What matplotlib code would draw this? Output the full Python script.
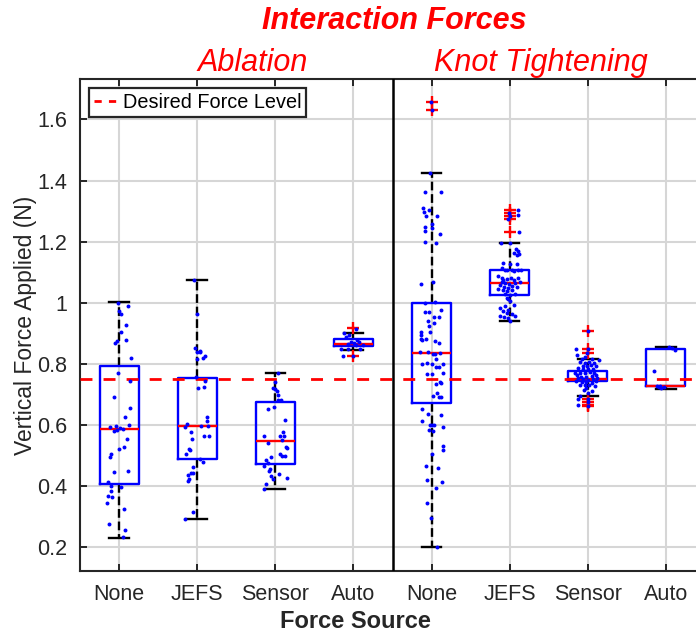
import matplotlib
matplotlib.use("Agg")
import matplotlib.pyplot as plt
from matplotlib.lines import Line2D
from matplotlib.ticker import FuncFormatter

plt.rcParams['font.family'] = ['Liberation Sans', 'DejaVu Sans']

# ---- data -------------------------------------------------------------
categories = ["None", "JEFS", "Sensor", "Auto", "None", "JEFS", "Sensor", "Auto"]
tasks = ["Ablation", "Knot Tightening"]
desired_force = 0.75

# box statistics per force source (N)
q1 = [0.4085, 0.4905, 0.473, 0.859, 0.674, 1.024, 0.743, 0.727]
medians = [0.586, 0.597, 0.5475, 0.8666, 0.836, 1.0656, 0.751, 0.728]
q3 = [0.795, 0.753, 0.677, 0.881, 1.000, 1.106, 0.778, 0.848]
whisker_lo = [0.231, 0.292, 0.391, 0.846, 0.200, 0.940, 0.695, 0.719]
whisker_hi = [1.002, 1.076, 0.771, 0.900, 1.425, 1.195, 0.817, 0.857]
outliers = [
    [],
    [],
    [],
    [0.918, 0.825],
    [1.658, 1.632],
    [1.303, 1.295, 1.284, 1.273, 1.232],
    [0.908, 0.850, 0.836, 0.684, 0.677, 0.667, 0.661],
    [],
]

# individual trials: force value and horizontal jitter
abl_none_force = [1.001, 0.991, 0.974, 0.965, 0.926, 0.905, 0.877, 0.874, 0.867, 0.820,
                  0.770, 0.745, 0.692, 0.655, 0.626, 0.600, 0.595, 0.598, 0.591, 0.582,
                  0.587, 0.585, 0.556, 0.527, 0.523, 0.506, 0.495, 0.446, 0.451, 0.414,
                  0.398, 0.401, 0.386, 0.367, 0.365, 0.345, 0.325, 0.277, 0.257, 0.233]
abl_none_jit = [-0.01, 0.11, 0.00, 0.03, 0.09, 0.03, 0.09, -0.03, -0.05, 0.15,
                -0.02, 0.14, -0.06, 0.14, 0.08, 0.13, -0.11, -0.04, 0.01, -0.06,
                0.05, -0.03, 0.10, 0.06, 0.00, -0.10, -0.12, -0.07, 0.12, -0.14,
                0.02, -0.10, -0.10, -0.14, -0.09, -0.15, 0.06, -0.13, 0.07, 0.05]

abl_jefs_force = [1.076, 0.965, 0.852, 0.841, 0.838, 0.840, 0.825, 0.821, 0.816, 0.759,
                  0.745, 0.721, 0.725, 0.626, 0.614, 0.603, 0.593, 0.598, 0.598, 0.579,
                  0.566, 0.566, 0.554, 0.522, 0.518, 0.506, 0.490, 0.481, 0.463, 0.443,
                  0.443, 0.436, 0.425, 0.418, 0.315, 0.292]
abl_jefs_jit = [-0.04, 0.00, -0.03, 0.03, 0.00, 0.04, 0.10, 0.08, 0.00, -0.01,
                0.10, 0.01, 0.09, 0.12, 0.12, -0.13, -0.15, 0.05, 0.14, -0.08,
                0.09, 0.15, -0.07, -0.10, -0.09, -0.14, 0.04, 0.07, -0.06, -0.08,
                -0.05, -0.12, -0.11, -0.12, -0.05, -0.15]

abl_sensor_force = [0.770, 0.740, 0.723, 0.719, 0.713, 0.697, 0.681, 0.681, 0.653, 0.658,
                    0.616, 0.579, 0.566, 0.564, 0.566, 0.553, 0.540, 0.530, 0.526, 0.504,
                    0.500, 0.499, 0.496, 0.486, 0.476, 0.468, 0.458, 0.451, 0.441, 0.434,
                    0.423, 0.426, 0.409, 0.391]
abl_sensor_jit = [0.04, 0.00, -0.03, -0.01, 0.02, 0.03, 0.03, 0.07, -0.09, -0.02,
                  0.13, 0.10, -0.14, 0.06, 0.11, 0.09, -0.10, 0.14, 0.15, 0.06,
                  0.09, 0.12, -0.05, -0.12, -0.10, -0.15, -0.07, -0.08, 0.05, -0.06,
                  -0.03, 0.15, -0.12, -0.14]

abl_auto_force = [0.916, 0.900, 0.895, 0.888, 0.879, 0.871, 0.869, 0.871, 0.866, 0.862,
                  0.863, 0.850, 0.849, 0.849, 0.827, 0.825]
abl_auto_jit = [0.03, -0.12, -0.06, -0.10, 0.04, -0.03, 0.01, 0.07, -0.07, 0.03,
                0.12, -0.16, -0.07, 0.09, -0.13, 0.00]

knot_none_force = [1.658, 1.632, 1.425, 1.362, 1.362, 1.311, 1.298, 1.303, 1.284, 1.283,
                   1.259, 1.249, 1.246, 1.236, 1.226, 1.200, 1.197, 1.062, 1.068, 0.999,
                   1.003, 0.976, 0.969, 0.969, 0.954, 0.954, 0.939, 0.934, 0.925, 0.905,
                   0.903, 0.895, 0.883, 0.880, 0.882, 0.875, 0.870, 0.840, 0.840, 0.832,
                   0.834, 0.837, 0.816, 0.801, 0.803, 0.799, 0.800, 0.790, 0.789, 0.770,
                   0.767, 0.767, 0.741, 0.736, 0.739, 0.706, 0.696, 0.693, 0.692, 0.652,
                   0.638, 0.634, 0.614, 0.601, 0.601, 0.600, 0.593, 0.585, 0.580, 0.532,
                   0.520, 0.504, 0.467, 0.459, 0.422, 0.415, 0.393, 0.344, 0.295, 0.200]
knot_none_jit = [-0.01, 0.00, -0.02, -0.09, 0.12, -0.11, -0.10, -0.03, -0.07, 0.07,
                 0.00, -0.09, 0.01, -0.09, 0.11, -0.08, 0.06, -0.13, 0.02, -0.08,
                 0.04, 0.12, -0.09, -0.03, 0.03, 0.09, -0.04, 0.03, -0.03, -0.02,
                 -0.14, -0.13, -0.13, -0.12, -0.07, 0.04, 0.09, -0.15, -0.05, 0.02,
                 0.05, 0.11, 0.06, -0.12, -0.06, 0.15, 0.00, 0.06, 0.09, 0.14,
                 -0.06, 0.01, 0.11, 0.06, 0.12, 0.07, 0.02, 0.09, 0.12, -0.12,
                 -0.05, 0.12, -0.12, -0.02, 0.03, 0.00, 0.15, -0.03, 0.02, 0.14,
                 0.15, 0.00, -0.07, 0.08, -0.06, 0.13, 0.06, -0.06, -0.01, 0.07]

knot_jefs_force = [1.303, 1.295, 1.287, 1.284, 1.273, 1.232, 1.197, 1.196, 1.175, 1.169,
                   1.160, 1.158, 1.164, 1.131, 1.126, 1.128, 1.115, 1.109, 1.106, 1.107,
                   1.104, 1.107, 1.109, 1.087, 1.082, 1.076, 1.079, 1.081, 1.076, 1.080,
                   1.068, 1.066, 1.063, 1.066, 1.068, 1.057, 1.052, 1.049, 1.054, 1.052,
                   1.044, 1.041, 1.038, 1.041, 1.027, 1.030, 1.029, 1.016, 1.011, 1.005,
                   0.989, 0.994, 0.983, 0.972, 0.978, 0.967, 0.962, 0.956, 0.954, 0.958,
                   0.949, 0.941]
knot_jefs_jit = [0.10, -0.01, 0.10, 0.00, -0.02, 0.12, -0.11, 0.01, 0.08, 0.11,
                 0.12, 0.09, 0.06, -0.08, 0.00, 0.09, -0.10, -0.06, -0.03, 0.03,
                 0.06, 0.11, 0.14, -0.15, -0.10, -0.08, -0.04, 0.02, 0.06, 0.11,
                 -0.10, -0.06, -0.01, 0.07, 0.13, -0.12, -0.07, -0.02, 0.03, 0.09,
                 -0.15, -0.08, -0.04, 0.03, 0.00, -0.06, 0.07, -0.04, -0.02, 0.00,
                 -0.06, 0.05, -0.12, -0.08, -0.02, -0.04, 0.03, -0.12, -0.07, 0.07,
                 -0.02, 0.01]

knot_sensor_force = [0.908, 0.850, 0.849, 0.836, 0.828, 0.823, 0.816, 0.816, 0.812, 0.806,
                     0.804, 0.806, 0.804, 0.795, 0.793, 0.796, 0.793, 0.786, 0.782, 0.784,
                     0.782, 0.772, 0.772, 0.770, 0.775, 0.772, 0.765, 0.759, 0.759, 0.762,
                     0.763, 0.753, 0.751, 0.749, 0.751, 0.753, 0.743, 0.741, 0.742, 0.739,
                     0.744, 0.732, 0.731, 0.730, 0.727, 0.722, 0.715, 0.711, 0.705, 0.696,
                     0.684, 0.686, 0.677, 0.667, 0.661]
knot_sensor_jit = [0.00, 0.00, -0.15, -0.01, -0.14, -0.03, -0.08, 0.05, 0.14, -0.10,
                   -0.04, 0.02, 0.08, -0.06, -0.01, 0.04, 0.11, -0.12, -0.06, 0.00,
                   0.07, -0.16, -0.10, -0.04, 0.03, 0.08, -0.14, -0.09, -0.02, 0.05,
                   0.11, -0.12, -0.06, 0.00, 0.07, 0.12, -0.15, -0.08, -0.02, 0.05,
                   0.10, -0.10, -0.03, 0.02, 0.09, -0.02, -0.05, 0.05, 0.00, -0.10,
                   -0.12, 0.00, 0.00, -0.12, 0.00]

knot_auto_force = [0.854, 0.852, 0.847, 0.776, 0.727, 0.725, 0.723, 0.725, 0.729]
knot_auto_jit = [0.04, 0.08, 0.11, -0.15, -0.12, -0.09, -0.06, -0.03, -0.08]

trial_forces = [abl_none_force, abl_jefs_force, abl_sensor_force, abl_auto_force,
                knot_none_force, knot_jefs_force, knot_sensor_force, knot_auto_force]
trial_jitter = [abl_none_jit, abl_jefs_jit, abl_sensor_jit, abl_auto_jit,
                knot_none_jit, knot_jefs_jit, knot_sensor_jit, knot_auto_jit]

# ---- figure -----------------------------------------------------------
W, H = 696, 634
fig = plt.figure(figsize=(W / 100, H / 100), dpi=100)
ax_left, ax_right, ax_top, ax_bottom = 80, 705, 79, 571
ax = fig.add_axes([ax_left / W, 1 - ax_bottom / H,
                   (ax_right - ax_left) / W, (ax_bottom - ax_top) / H])

positions = list(range(1, len(categories) + 1))
stats = []
for i in range(len(categories)):
    stats.append(dict(med=medians[i], q1=q1[i], q3=q3[i],
                      whislo=whisker_lo[i], whishi=whisker_hi[i],
                      fliers=outliers[i]))

ax.bxp(stats, positions=positions, widths=0.5, capwidths=0.25,
       boxprops=dict(color='blue', lw=1.7, zorder=3),
       medianprops=dict(color='red', lw=1.7, zorder=3),
       whiskerprops=dict(color='black', ls='--', lw=1.7, zorder=2),
       capprops=dict(color='black', lw=1.7, zorder=2),
       flierprops=dict(marker='+', markeredgecolor='red', markersize=8,
                       markeredgewidth=1.7, linestyle='none', zorder=3))

# reference force level
ax.axhline(desired_force, color='red', lw=2.0, dashes=(4.3, 4.0), zorder=4)

# jittered trial points
for pos, ys, jit in zip(positions, trial_forces, trial_jitter):
    xs = [pos + j for j in jit]
    ax.scatter(xs, ys, s=8, color='blue', linewidths=0, zorder=5)

# task separator
ax.axvline(4.5, color='black', lw=1.8, zorder=6)

ax.set_xlim(0.5, 8.5)
ax.set_ylim(0.123, 1.732)
ax.set_xticks(positions)
ax.set_xticklabels(categories)
ax.set_yticks([0.2, 0.4, 0.6, 0.8, 1.0, 1.2, 1.4, 1.6])
ax.yaxis.set_major_formatter(FuncFormatter(lambda v, p: f"{v:g}"))

ax.grid(True, color='#d6d6d6', lw=1.5)
ax.set_axisbelow(True)
ax.tick_params(direction='in', length=5, width=1.4, top=True, right=True,
               labelsize=15.5, colors='#262626', pad=9)
for sp in ax.spines.values():
    sp.set_color('#262626')
    sp.set_linewidth(1.5)

ax.set_ylabel("Vertical Force Applied (N)", fontsize=16.5, color='#262626',
              labelpad=0)

legend_handle = Line2D([], [], color='red', lw=2.0, dashes=(2.6, 2.6))
leg = ax.legend([legend_handle], ["Desired Force Level"], loc='upper left',
                fontsize=14.3, frameon=True, fancybox=False, framealpha=1,
                edgecolor='#262626', borderaxespad=0.45, borderpad=0.25,
                handlelength=1.3, handletextpad=0.15)
leg.get_frame().set_linewidth(1.6)
for t in leg.get_texts():
    t.set_color('black')

# titles and axis label placed in figure pixels
def fx(px):
    return px / W

def fy(py):
    return 1 - py / H

fig.text(fx(394.5), fy(29), "Interaction Forces", ha='center', va='baseline',
         fontsize=22, fontweight='bold', fontstyle='italic', color='red')
fig.text(fx(253), fy(71), tasks[0], ha='center', va='baseline',
         fontsize=22, fontstyle='italic', color='red')
fig.text(fx(541), fy(71), tasks[1], ha='center', va='baseline',
         fontsize=22, fontstyle='italic', color='red')
fig.text(fx(355.6), fy(621), "Force Source", ha='center', va='center',
         fontsize=17, fontweight='bold', color='#262626')

fig.savefig("out.png", dpi=100)
